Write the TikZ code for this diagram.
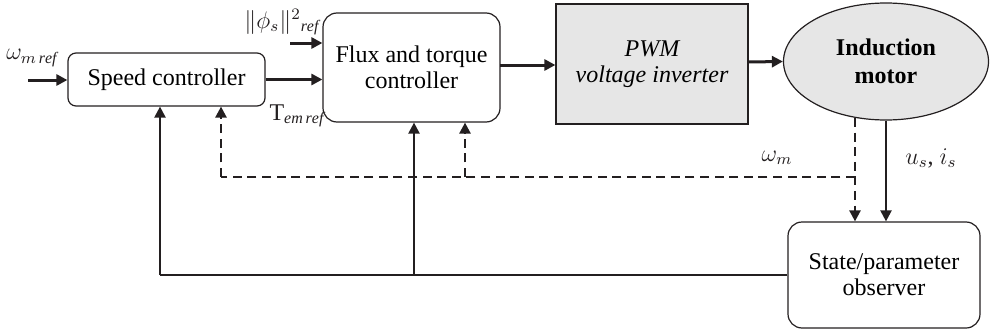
\documentclass[tikz,border=0pt]{standalone}
\usepackage{fontspec}
\setmainfont{Liberation Serif}
\newfontfamily\tnr{Liberation Serif}
\usetikzlibrary{arrows.meta,shapes.geometric}
\definecolor{ink}{HTML}{231F20}
\definecolor{boxgray}{HTML}{E6E6E6}
\tikzset{
  blk/.style={draw=ink,line width=0.6pt,rounded corners=7pt,align=center,font=\tnr\fontsize{12}{13}\selectfont,inner sep=0pt},
  sig/.style={draw=ink,line width=1.5pt,-{Triangle[length=5.5pt,width=5.5pt]}},
  fb/.style={draw=ink,line width=1.1pt},
  fbd/.style={draw=ink,line width=1.2pt,dash pattern=on 4.5pt off 2.8pt},
  tip/.style={-{Triangle[length=5.5pt,width=5.5pt]}},
  lbl/.style={font=\tnr\fontsize{12}{13}\selectfont,inner sep=0pt,text=ink}
}
\begin{document}
\begin{tikzpicture}[x=0.5pt,y=-0.5pt]
\useasboundingbox (0,0) rectangle (990,332);
% blocks
\node[blk,minimum width=98.5pt,minimum height=26.5pt,rounded corners=4pt] (speed) at (166.5,79.5) {Speed controller};
\node[blk,minimum width=88.5pt,minimum height=54.5pt] (flux) at (411.5,67.5) {Flux and torque\\controller};
\node[blk,rounded corners=0pt,fill=boxgray,minimum width=96pt,minimum height=60pt] (pwm) at (652,64) {\itshape PWM\\\itshape voltage inverter};
\node[draw=ink,line width=0.6pt,ellipse,fill=boxgray,minimum width=102.5pt,minimum height=58.5pt,inner sep=0pt,align=center,font=\tnr\fontsize{12}{14}\selectfont\bfseries] (motor) at (886,61.5) {Induction\\motor};
\node[blk,minimum width=96pt,minimum height=53pt] (obs) at (884,275) {State/parameter\\observer};
% coordinates
\coordinate (win) at (28,80);
\coordinate (phin) at (290,43);
\coordinate (fo) at (500,65);
\coordinate (po) at (748,62);
\coordinate (md) at (855,118);
\coordinate (dh) at (855,177);
\coordinate (dl) at (221,177);
\coordinate (dm) at (465,177);
\coordinate (sl) at (160,275);
\coordinate (sm) at (414,275);
% forward signals
\draw[sig] (win) -- (win -| speed.west);
\draw[sig] (speed.east) -- (speed.east -| flux.west);
\draw[sig] (phin) -- (phin -| flux.west);
\draw[sig] (fo) -- (fo -| pwm.west);
\draw[sig] (po) -- (motor.west);
% motor to observer
\draw[fb,tip] (motor.south) -- (motor.south |- obs.north);
\draw[fbd,tip] (md) -- (md |- obs.north);
% dashed speed feedback
\draw[fbd] (dh) -- (dl);
\draw[fbd,tip] (dl) -- (dl |- speed.south);
\draw[fbd,tip] (dm) -- (dm |- flux.south);
% solid observer feedback
\draw[fb] (obs.west |- sl) -- (sl);
\draw[fb,tip] (sl) -- (sl |- speed.south);
\draw[fb,tip] (sm) -- (sm |- flux.south);
% labels
\node[lbl] (lw) at (32,58) {$\omega_{m\,\mathit{ref}}$};
\node[lbl] (lphi) at (282,22) {$\|\phi_s\|^2{}_{\mathit{ref}}$};
\node[lbl] (ltem) at (297,116) {T$_{\mathit{em\,ref}}$};
\node[lbl] (lwm) at (777,158) {$\omega_m$};
\node[lbl] (lui) at (931,158) {$u_s$, $i_s$};
\end{tikzpicture}
\end{document}
